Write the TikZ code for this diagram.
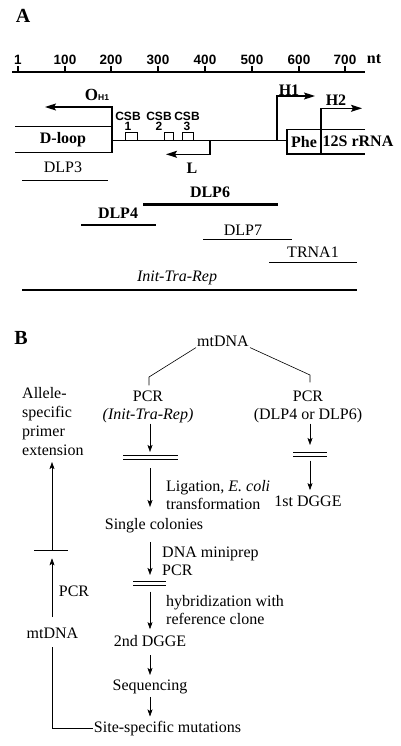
\documentclass[tikz,border=0pt]{standalone}
\usepackage{fontspec}
\setmainfont{Liberation Serif}
\setsansfont{Liberation Sans}
\usetikzlibrary{arrows.meta}
\tikzset{
  paneltxt/.style={font=\fontsize{20}{22}\selectfont\bfseries, inner sep=0pt},
  maptxt/.style={font=\fontsize{16}{18}\selectfont\bfseries, inner sep=1pt},
  scaletxt/.style={font=\fontsize{13.5}{15}\selectfont\sffamily\bfseries, inner sep=1pt},
  csbtxt/.style={font=\fontsize{12}{10.5}\selectfont\sffamily\bfseries, align=center, inner sep=0pt},
  probetxt/.style={font=\fontsize{16}{18}\selectfont, inner sep=1pt},
  flowtxt/.style={font=\fontsize{16}{18}\selectfont, inner sep=1pt},
  mapline/.style={line width=1.1pt},
  maparrow/.style={line width=1.1pt, -{Stealth[length=11pt,width=7pt,inset=2pt]}},
  thinprobe/.style={line width=0.8pt},
  thickprobe/.style={line width=2.4pt},
  flowline/.style={line width=0.6pt},
  flowarrow/.style={line width=0.6pt, -{Stealth[length=7pt,width=5pt,inset=1.5pt]}},
  gel/.style={line width=0.7pt},
}
\begin{document}
\begin{tikzpicture}[x=1pt,y=-1pt]
\useasboundingbox (0,0) rectangle (400,746);

\node[paneltxt] (pA) at (23,16) {A};
\node[paneltxt] (pB) at (21,338) {B};

% scale
\draw[mapline] (12,72) -- (365,72);
\foreach \n/\x in {1/18,100/65,200/111,300/158,400/205,500/252,600/299,700/345}{
  \draw[mapline] (\x,72) -- (\x,66);
  \node[scaletxt] (tick\n) at (\x,60) {\n};
}
\node[maptxt] (nt) at (374,59.5) {nt};

% control region map
\draw[mapline] (15,126.7) -- (112,126.7);
\draw[mapline] (15,152.7) -- (112,152.7);
\draw[mapline] (112,140.7) -- (287,140.7);
\node[maptxt] (dloop) at (63,140) {D-loop};
\draw[maparrow] (112,152.7) -- (112,107) -- (45,107);
\node[maptxt] (ohone) at (97,95) {{\fontsize{17}{18}\selectfont O}\raisebox{-0.5pt}{\fontsize{8.5}{9}\selectfont\sffamily H1}};
\foreach \k/\x/\a/\b in {1/128/125/137,2/159/164/173,3/187/182/193}{
  \node[csbtxt] (csb\k) at (\x,121.5) {CSB\\\k};
  \draw[line width=0.8pt] (\a,140.7) |- (\b,132.3) -- (\b,140.7);
}
\draw[maparrow] (210,140.7) |- (166,154.3);
\node[maptxt] (lstr) at (192,168) {L};
\draw[maparrow] (277,140.7) |- (315,96);
\node[maptxt] (hone) at (289,90) {H1};
\draw[maparrow] (321,154) |- (362,108.3);
\node[maptxt] (htwo) at (336,100) {H2};
\draw[mapline] (365,129.3) -- (287,129.3) -- (287,154) -- (365,154);
\node[maptxt] (phe) at (304,141.7) {Phe};
\node[maptxt] (rrna) at (358,141.7) {12S rRNA};

% probes
\node[probetxt] (dlp3) at (63,167) {DLP3};
\draw[thinprobe] (22,180.7) -- (108,180.7);
\node[probetxt] (dlp6) at (210,192.7) {\textbf{DLP6}};
\draw[thickprobe] (143,204.3) -- (278,204.3);
\node[probetxt] (dlp4) at (118,213.3) {\textbf{DLP4}};
\draw[thickprobe] (81,225) -- (156,225);
\node[probetxt] (dlp7) at (243,230.7) {DLP7};
\draw[thinprobe] (203,239.3) -- (292,239.3);
\node[probetxt] (trna) at (313,252.7) {TRNA1};
\draw[thinprobe] (269,262.7) -- (357,262.7);
\node[probetxt] (itr) at (177,278.3) {\textit{Init-Tra-Rep}};
\draw[thickprobe] (22,290) -- (357,290);

% strategy
\node[flowtxt] (mtop) at (223,341) {mtDNA};
\node[flowtxt, align=center] (pcrL) at (148,406.5) {PCR\\\textit{(Init-Tra-Rep)}};
\node[flowtxt, align=center] (pcrR) at (308,406.5) {PCR\\(DLP4 or DLP6)};
\coordinate (kneeL) at (149,377);
\coordinate (kneeR) at (310,375);
\draw[flowline, shorten >=4pt] (mtop.south west) -- (kneeL) -- (kneeL |- pcrL.north);
\draw[flowline, shorten >=7pt] (mtop.south east) -- (kneeR) -- (kneeR |- pcrR.north);

\coordinate (band1) at (150,457.5);
\coordinate (band2) at (310,454);
\coordinate (band3) at (150,583);
\foreach \s in {-2.1,2.1}{
  \draw[gel] ([xshift=-27pt,yshift=\s pt]band1) -- ([xshift=28pt,yshift=\s pt]band1);
  \draw[gel] ([xshift=-17pt,yshift=\s pt]band2) -- ([xshift=17pt,yshift=\s pt]band2);
  \draw[gel] ([xshift=-17pt,yshift=\s pt]band3) -- ([xshift=16pt,yshift=\s pt]band3);
}

\node[flowtxt] (dgge1) at (308,501.7) {1st DGGE};
\draw[flowarrow] (pcrR.south -| band2) -- ([yshift=9pt]band2);
\draw[flowarrow, shorten >=5pt] ([yshift=-6.7pt]band2) -- (dgge1.north -| band2);

\node[flowtxt, anchor=west, align=left] (lig) at (165,494.7) {Ligation, \textit{E. coli}\\transformation};
\node[flowtxt] (colonies) at (154,526) {Single colonies};
\node[flowtxt, anchor=west, align=left] (prep) at (161,560.8) {DNA miniprep\\PCR};
\node[flowtxt, anchor=west, align=left] (hyb) at (165,610) {hybridization with\\reference clone};
\node[flowtxt] (dgge2) at (150,641) {2nd DGGE};
\node[flowtxt] (seq) at (150,686.7) {Sequencing};
\node[flowtxt] (site) at (167.5,728.3) {Site-specific mutations};

\draw[flowarrow] (pcrL.south -| band1) -- ([yshift=5.5pt]band1);
\draw[flowarrow, shorten >=10.5pt] ([yshift=-10.5pt]band1) -- (colonies.north -| band1);
\draw[flowarrow, shorten <=7.5pt] (colonies.south -| band1) -- ([yshift=8pt]band3);
\draw[flowarrow, shorten >=5pt] ([yshift=-8.7pt]band3) -- (dgge2.north -| band3);
\draw[flowarrow, shorten <=7.5pt, shorten >=3.5pt] (dgge2.south) -- (seq.north);
\draw[flowarrow, shorten <=2pt, shorten >=3.3pt] (seq.south) -- (seq.south |- site.north);

\node[flowtxt, anchor=west, align=left, font=\fontsize{16}{19.2}\selectfont] (allele) at (21,421.4) {Allele-\\specific\\primer\\extension};
\node[flowtxt] (mtlow) at (52.5,633.3) {mtDNA};
\node[flowtxt] (pcrB) at (74,591.7) {PCR};
\coordinate (bar) at (52,550.7);
\draw[flowline] ([xshift=-18pt]bar) -- ([xshift=16pt]bar);
\draw[flowline, shorten >=7pt] (site.west) -| (mtlow.south -| bar);
\draw[flowarrow, shorten <=9.5pt] (mtlow.north -| bar) -- ([yshift=-7.6pt]bar);
\draw[flowarrow, shorten >=5pt] (bar) -- (bar |- allele.south);
\end{tikzpicture}
\end{document}
